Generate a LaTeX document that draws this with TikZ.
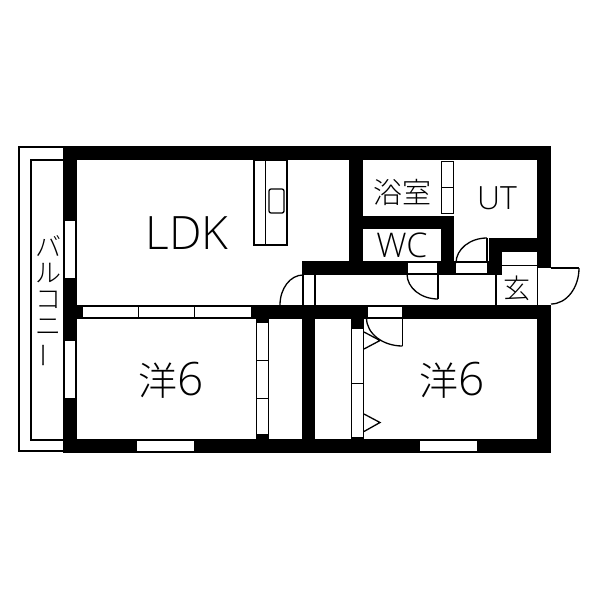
\documentclass[tikz,border=0pt]{standalone}
\usepackage{fontspec}
\setmainfont{Noto Sans CJK JP Light}
\newfontfamily\latinfont{Open Sans Light}
\tikzset{
  wall/.style={fill=black,draw=none},
  win/.style={fill=white,draw=black,line width=1pt},
  thin/.style={draw=black,line width=1.3pt},
  lbl/.style={inner sep=0pt,text=black},
  kana/.style={lbl,font=\fontsize{26}{26}\selectfont},
}
\newcommand{\wl}[4]{\fill[wall] (#1,#2) rectangle (#3,#4);}
\begin{document}
\begin{tikzpicture}[x=1pt,y=-1pt]
\useasboundingbox (0,0) rectangle (600,600);
\fill[white] (0,0) rectangle (600,600);
% balcony
\draw[line width=2pt] (63,147) -- (19,147) -- (19,451) -- (63,451);
\draw[line width=2pt] (63,160) -- (31,160) -- (31,439.5) -- (63,439.5);
% outer walls
\wl{63}{146}{551}{160}
\wl{63}{439}{551}{452.5}
\wl{63}{146}{76.5}{452.5}
\wl{537}{146}{551}{452.5}
% interior walls
\wl{76}{305}{537}{318.5}
\wl{256}{318}{269}{439}
\wl{302}{318}{315}{439}
\wl{351}{318}{364}{439}
\wl{349}{160}{362.5}{274}
\wl{302}{261}{502}{274.5}
\wl{362}{216}{454}{229}
\wl{441}{216}{454}{274}
\wl{489}{238}{537}{251.5}
\wl{489}{238}{502}{274.5}
% windows
\draw[win] (64,220.5) rectangle (75.5,278);
\draw[win] (64,340.5) rectangle (75.5,398);
\draw[win] (136.5,440) rectangle (194.5,451.5);
\draw[win] (419,440) rectangle (477.5,451.5);
\draw[win] (82.5,306) rectangle (138.5,317.5);
\draw[win] (138.5,306) rectangle (194.5,317.5);
\draw[win] (194.5,306) rectangle (251,317.5);
\draw[win] (256.5,322) rectangle (268.5,360);
\draw[win] (256.5,360) rectangle (268.5,398);
\draw[win] (256.5,398) rectangle (268.5,434.5);
\draw[win] (351.5,328) rectangle (363,383);
\draw[win] (351.5,383) rectangle (363,437);
\draw[win] (441.6,161.5) rectangle (453.6,187.5);
\draw[win] (441.6,187.5) rectangle (453.6,213.5);
\draw[win] (407,262) rectangle (437.5,273.5);
\draw[win] (455,262) rectangle (487,273.5);
\draw[win] (367.5,306) rectangle (402,317.5);
\fill[white] (538,268) rectangle (550.5,304.5);
\fill[white] (502.5,252) rectangle (537,265);
\fill[white] (303.5,274.5) rectangle (314.5,304.5);
% LDK door
\draw[thin] (303,274.5) -- (303,305);
\draw[thin] (315,274.5) -- (315,305);
\draw[thin] (303,275) arc[start angle=270,end angle=180,x radius=23,y radius=30];
% WC door
\draw[thin] (438,274) -- (438,299);
\draw[thin] (438,299) arc[start angle=90,end angle=180,x radius=31,y radius=25];
% UT door
\draw[thin] (487,238) -- (487,262);
\draw[thin] (487,238) arc[start angle=270,end angle=180,x radius=31,y radius=25];
% entrance
\draw[line width=1.6pt] (502,265.5) -- (537,265.5);
\draw[thin] (496,274) -- (496,305);
\draw[thin] (551,268) -- (579,268);
\draw[thin] (579,268) arc[start angle=0,end angle=90,x radius=28,y radius=36];
% bedroom door
\draw[thin] (402.5,318) -- (402.5,346);
\draw[thin] (402.5,346) arc[start angle=90,end angle=180,x radius=36,y radius=28];
% closet marks
\draw[thin,line join=miter] (364,332) -- (380,340.5) -- (364,349);
\draw[thin,line join=miter] (364,414) -- (380,422.5) -- (364,431.5);
% kitchen
\draw[thin] (254,160) rectangle (287,245);
\draw[thin] (265.5,160) -- (265.5,245);
\draw[thin,rounded corners=2pt] (269,189) rectangle (284,213);
% text
\node[lbl,font=\latinfont\fontsize{46}{46}\selectfont] (ldk) at (187,233.5) {LDK};
\node[lbl,font=\fontsize{29}{29}\selectfont] (bath) at (402.5,192.5) {浴室};
\node[lbl,font=\latinfont\fontsize{34}{34}\selectfont] (wc) at (402,245) {WC};
\node[lbl,font=\latinfont\fontsize{32}{32}\selectfont] (ut) at (497,198) {UT};
\node[lbl,font=\fontsize{27}{27}\selectfont] (gen) at (517,288) {玄};
\node[lbl,font=\fontsize{39}{39}\selectfont] (r1) at (171.5,380) {洋\latinfont\fontsize{46}{46}\selectfont 6};
\node[lbl,font=\fontsize{39}{39}\selectfont] (r2) at (452,380) {洋\latinfont\fontsize{46}{46}\selectfont 6};
\node[kana] (k1) at (48,246) {バ};
\node[kana] (k2) at (48,273) {ル};
\node[kana] (k3) at (48,300) {コ};
\node[kana] (k4) at (48,327) {ニ};
\node[kana,rotate=90] (k5) at (48,355) {ー};
\end{tikzpicture}
\end{document}
